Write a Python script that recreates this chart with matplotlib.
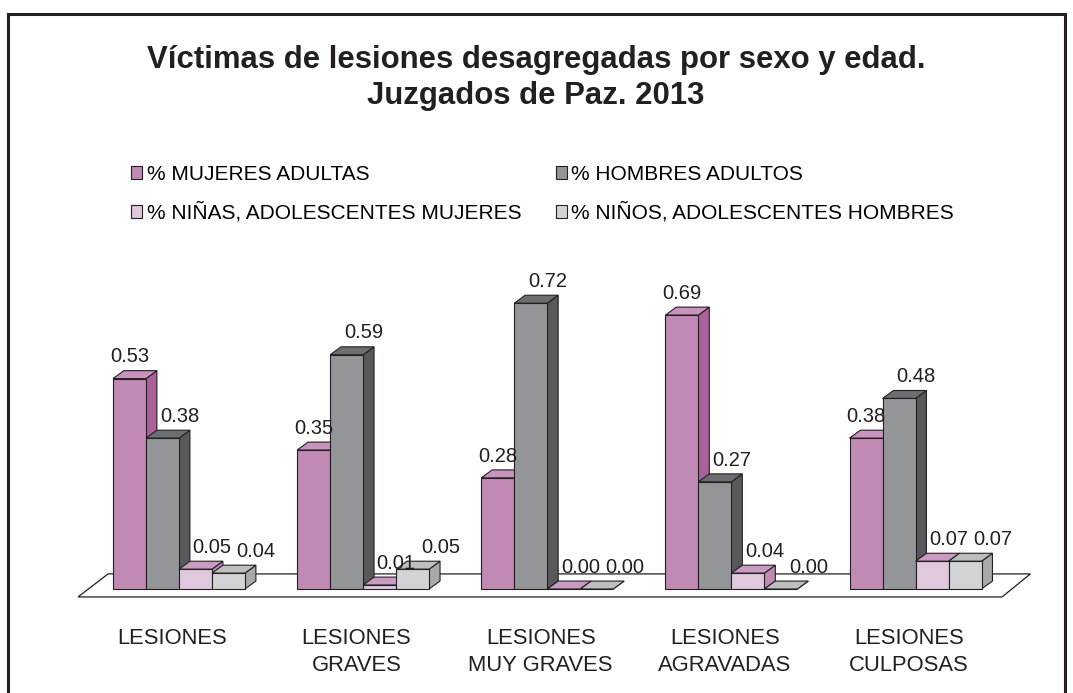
import matplotlib
matplotlib.use('Agg')
import matplotlib.pyplot as plt
from matplotlib.patches import Polygon, Patch, Rectangle

plt.rcParams['font.family'] = ['Liberation Sans', 'DejaVu Sans']

# ============================= DATOS =================================
categorias = ['LESIONES', 'LESIONES\nGRAVES', 'LESIONES\nMUY GRAVES',
              'LESIONES\nAGRAVADAS', 'LESIONES\nCULPOSAS']
series = ['% MUJERES ADULTAS', '% HOMBRES ADULTOS',
          '% NIÑAS, ADOLESCENTES MUJERES', '% NIÑOS, ADOLESCENTES HOMBRES']
mujeres = [0.53, 0.35, 0.28, 0.69, 0.38]
hombres = [0.38, 0.59, 0.72, 0.27, 0.48]
ninas = [0.05, 0.01, 0.00, 0.04, 0.07]
ninos = [0.04, 0.05, 0.00, 0.00, 0.07]

# colores: frente, lateral, tapa
colores = [('#C08AB5', '#A9609B', '#C893BD'),
           ('#939598', '#58595B', '#6D6E71'),
           ('#E0C8DE', '#C08AB5', '#C99AC2'),
           ('#D1D3D4', '#A7A9AC', '#BCBEC0')]
borde = '#231F20'
# desplazamiento horizontal de las etiquetas de valor por serie (puntos)
desp_etiqueta = [-4, 8.5, 8, 16]

# ============================= FIGURA =================================
fig = plt.figure(figsize=(10.73, 6.93), dpi=100)
ax = fig.add_axes([80 / 1073, 104 / 693, 924 / 1073, 397 / 693])
ax.set_xlim(-1, 27)
ax.set_ylim(0, 1)
ax.axis('off')

# marco exterior
fig.patches.append(Rectangle((8 / 1073, -0.05), 1057 / 1073, 1.05 - 14 / 693,
                             transform=fig.transFigure, fill=False,
                             edgecolor='#231F20', linewidth=2.2))

paso = 5.58     # separación entre grupos (en anchos de barra)
dx, dy = 0.33, 0.02   # profundidad 3D

# piso
piso = Polygon([(-1.06, -0.02), (26.94, -0.02), (27.8, 0.038), (-0.15, 0.038)],
               closed=True, facecolor='white', edgecolor=borde, linewidth=0.9,
               clip_on=False, zorder=1)
ax.add_patch(piso)

valores = [mujeres, hombres, ninas, ninos]
z = 2
for g in range(len(categorias)):
    for s, vals in enumerate(valores):
        x = g * paso + s
        h = vals[g]
        frente, lado, tapa = colores[s]
        ax.add_patch(Polygon([(x + 1, 0), (x + 1 + dx, dy), (x + 1 + dx, h + dy), (x + 1, h)],
                             facecolor=lado, edgecolor=borde, linewidth=0.8,
                             clip_on=False, zorder=z))
        ax.add_patch(Polygon([(x, h), (x + dx, h + dy), (x + 1 + dx, h + dy), (x + 1, h)],
                             facecolor=tapa, edgecolor=borde, linewidth=0.8,
                             clip_on=False, zorder=z))
        ax.bar(x, h, width=1, align='edge', color=frente, edgecolor=borde,
               linewidth=0.8, clip_on=False, zorder=z)
        z += 1
        ax.annotate(f'{h:.2f}', (x + 0.5 + dx / 2, h + dy),
                    xytext=(desp_etiqueta[s], 6),
                    textcoords='offset points', ha='center', va='baseline',
                    fontsize=14.5, color='#231F20', zorder=100)
    ax.text(g * paso + 1.8, -0.098, categorias[g], ha='center', va='top',
            fontsize=15.8, linespacing=1.4, color='#231F20')

# titulo
fig.text(0.4995, 0.8875, 'Víctimas de lesiones desagregadas por sexo y edad.\nJuzgados de Paz. 2013',
         ha='center', va='center', fontsize=22.4, fontweight='bold',
         linespacing=1.28, color='#231F20')

# leyenda
orden = [0, 2, 1, 3]
handles = [Patch(facecolor=colores[i][0], edgecolor=borde, linewidth=0.8) for i in orden]
etiquetas = [series[i] for i in orden]
fig.legend(handles, etiquetas, ncol=2, loc='upper left',
           bbox_to_anchor=(131 / 1073, 1 - 165 / 693), frameon=False,
           fontsize=15, handlelength=0.55, handleheight=0.55,
           handletextpad=0.2, columnspacing=1.66, labelspacing=0.88,
           borderaxespad=0, borderpad=0)

fig.savefig('out.png', dpi=100)
